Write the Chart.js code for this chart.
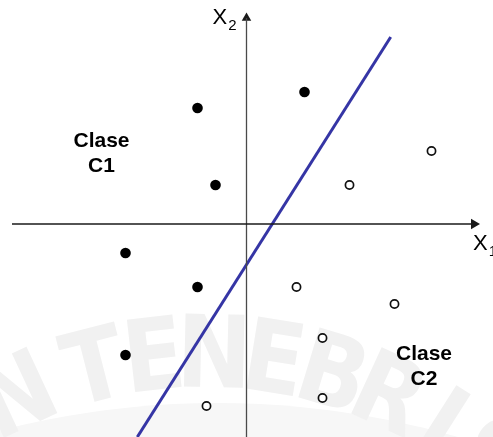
<!DOCTYPE html>
<html>
<head>
<meta charset="utf-8">
<script src="https://cdn.jsdelivr.net/npm/chart.js@4/dist/chart.umd.min.js"></script>
<style>
  html, body { margin: 0; padding: 0; background: #ffffff; }
  #wrap { width: 493px; height: 437px; }
</style>
</head>
<body>
<div id="wrap"><canvas id="c" width="493" height="437"></canvas></div>
<script>
// Class C1 samples (filled dots)
const class1X = [-4.9, 5.8, -3.1, -12.1, -4.9, -12.1];
const class1Y = [11.6, 13.2, 3.9, -2.9, -6.3, -13.1];
// Class C2 samples (open circles)
const class2X = [18.5, 10.3, 5.0, 14.8, 7.6, 7.6, -4.0];
const class2Y = [7.3, 3.9, -6.3, -8.0, -11.4, -17.4, -18.2];
// Separating boundary endpoints
const boundaryX = [-10.92, 14.42];
const boundaryY = [-21.3, 18.7];
// Coordinate axes
const axisXRange = [-23.45, 22.45];
const axisYRange = [-21.3, 20.6];
// Region labels
const classLabels = ['Clase C1', 'Clase C2'];
const classLabelX = [-14.5, 17.75];
const classLabelY = [7.7, -13.6];

const pts = (xs, ys) => xs.map((x, i) => ({ x, y: ys[i] }));

// Faint seal lettering behind the plot
const sealLetters = ['I', 'N', 'T', 'E', 'N', 'E', 'B', 'R', 'I', 'S'];
const sealAngles = [-33, -25, -14.3, -6.5, 1.3, 9.1, 16.9, 24.7, 32.5, 40.3];

const sealPlugin = {
  id: 'seal',
  beforeDatasetsDraw(chart) {
    const ctx = chart.ctx;
    ctx.save();
    // lower arc band
    ctx.fillStyle = '#f7f7f7';
    ctx.beginPath();
    ctx.arc(217, 403 + 872, 872, 0, Math.PI * 2);
    ctx.fill();
    // letters set on an arc
    ctx.fillStyle = '#f1f1f1';
    ctx.font = "bold 100px 'Liberation Sans Narrow', 'DejaVu Sans Condensed', sans-serif";
    ctx.textAlign = 'center';
    ctx.textBaseline = 'alphabetic';
    const cx = 204, cy = 797, R = 410;
    sealLetters.forEach((ch, i) => {
      const a = sealAngles[i] * Math.PI / 180;
      ctx.save();
      ctx.translate(cx + R * Math.sin(a), cy - R * Math.cos(a));
      ctx.rotate(a);
      ctx.fillText(ch, 0, 0);
      ctx.restore();
    });
    ctx.restore();
  }
};

const textPlugin = {
  id: 'texts',
  afterDatasetsDraw(chart) {
    const ctx = chart.ctx;
    const xs = chart.scales.x, ys = chart.scales.y;
    ctx.save();
    ctx.fillStyle = '#000000';
    ctx.textBaseline = 'alphabetic';
    // class labels, two lines each
    ctx.font = "bold 21px 'Liberation Sans', Arial, sans-serif";
    ctx.textAlign = 'center';
    classLabels.forEach((lab, i) => {
      const parts = lab.split(' ');
      const px = xs.getPixelForValue(classLabelX[i]);
      const py = ys.getPixelForValue(classLabelY[i]);
      ctx.fillText(parts[0], px, py);
      ctx.fillText(parts[1], px, py + 25);
    });
    // axis names with subscripts
    ctx.textAlign = 'left';
    const axisName = (x, y, sub) => {
      ctx.font = "22px 'Liberation Sans', Arial, sans-serif";
      ctx.fillText('X', x, y);
      const w = ctx.measureText('X').width;
      ctx.font = "15px 'Liberation Sans', Arial, sans-serif";
      ctx.fillText(sub, x + w + 1, y + 6);
    };
    axisName(xs.getPixelForValue(-3.4), ys.getPixelForValue(20.0), '2');
    axisName(xs.getPixelForValue(22.65), ys.getPixelForValue(-2.6), '1');
    ctx.restore();
  }
};

new Chart(document.getElementById('c'), {
  type: 'scatter',
  data: {
    datasets: [
      {
        label: 'eje X1',
        data: [{ x: axisXRange[0], y: 0 }, { x: axisXRange[1], y: 0 }],
        showLine: true, borderColor: '#1a1a1a', borderWidth: 1.6,
        pointRadius: 0
      },
      {
        label: 'eje X2',
        data: [{ x: 0, y: axisYRange[0] }, { x: 0, y: axisYRange[1] }],
        showLine: true, borderColor: '#4a4a4a', borderWidth: 1.3,
        pointRadius: 0
      },
      {
        label: 'flechas',
        data: [{ x: 22.75, y: 0 }, { x: 0, y: 20.6 }],
        pointStyle: 'triangle',
        rotation: [90, 0],
        pointRadius: [6, 5.5],
        backgroundColor: '#1a1a1a', borderColor: '#1a1a1a', borderWidth: 0
      },
      {
        label: 'Frontera',
        data: pts(boundaryX, boundaryY),
        showLine: true, borderColor: '#3535a5', borderWidth: 3,
        pointRadius: 0
      },
      {
        label: 'Clase C1',
        data: pts(class1X, class1Y),
        pointRadius: 5.3, backgroundColor: '#000000', borderWidth: 0
      },
      {
        label: 'Clase C2',
        data: pts(class2X, class2Y),
        pointRadius: 4.1, backgroundColor: '#ffffff', borderColor: '#111111', borderWidth: 1.7
      }
    ]
  },
  options: {
    responsive: false,
    animation: false,
    layout: { padding: 0, autoPadding: false },
    plugins: { legend: { display: false }, tooltip: { enabled: false } },
    scales: {
      x: { type: 'linear', min: -24.65, max: 24.65, display: false },
      y: { type: 'linear', min: -21.3, max: 22.4, display: false }
    }
  },
  plugins: [sealPlugin, textPlugin]
});
</script>
</body>
</html>
